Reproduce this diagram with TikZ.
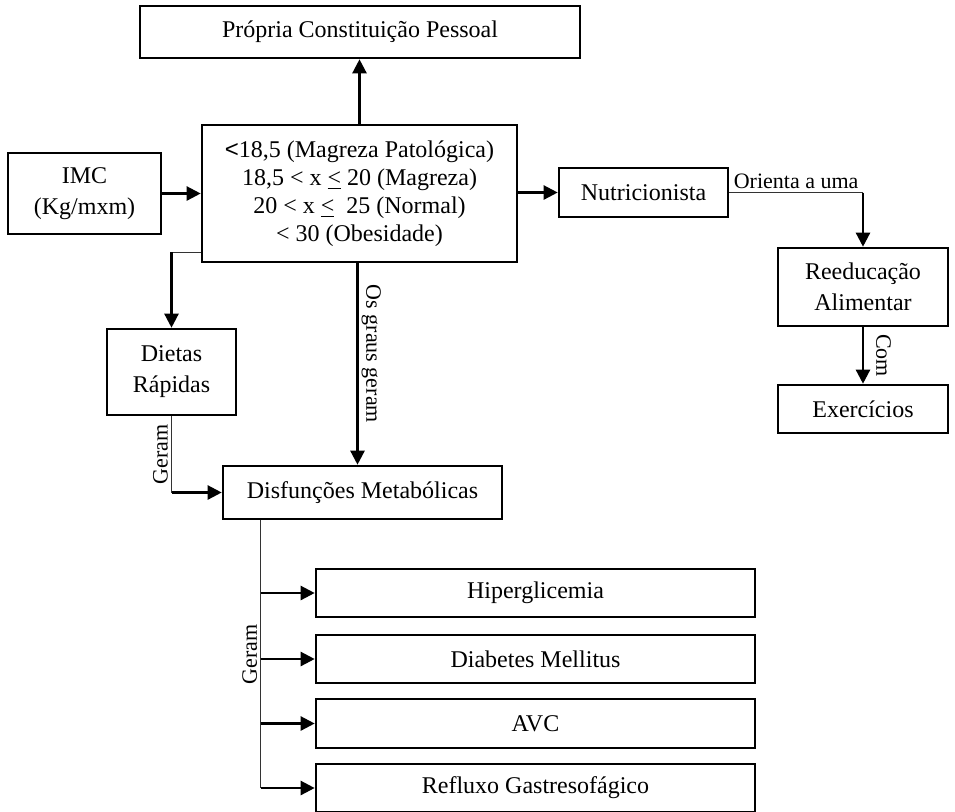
\documentclass[tikz,border=0pt]{standalone}
\usepackage{fontspec}
\setmainfont{Liberation Serif}
\newfontfamily\sansf{Liberation Sans}
\usetikzlibrary{arrows.meta}
\begin{document}
\begin{tikzpicture}[x=0.5pt,y=-0.5pt,
  caixa/.style={draw,line width=1.3pt,inner sep=0pt,align=center,font=\fontsize{12}{15.5}\selectfont},
  seta/.style={line width=1.2pt,-{Triangle[length=7pt,width=7pt]}},
  fino/.style={line width=0.6pt,black!80},
  rotulo/.style={font=\fontsize{11}{13}\selectfont,inner sep=1.5pt}]
\useasboundingbox (0,0) rectangle (955,811);
\node[caixa,minimum width=220pt,minimum height=26pt] (constit) at (360,32) {Própria Constituição Pessoal};
\node[caixa,minimum width=157.5pt,minimum height=68.5pt,font=\fontsize{12}{14}\selectfont] (graus) at (359.5,193.5)
  {{\sansf <}18,5 (Magreza Patológica)\\ 18,5 < x \underline{<} 20 (Magreza)\\ 20 < x \underline{<}\ \ 25 (Normal)\\ < 30 (Obesidade)};
\node[caixa,minimum width=76.5pt,minimum height=40.5pt] (imc) at (84.5,193.5) {IMC\\ (Kg/mxm)};
\node[caixa,minimum width=84.5pt,minimum height=24.5pt] (nutri) at (643.5,192.5) {Nutricionista};
\node[caixa,minimum width=85pt,minimum height=39pt] (reeduc) at (863,287) {Reeducação\\ Alimentar};
\node[caixa,minimum width=85pt,minimum height=24pt] (exerc) at (863,409) {Exercícios};
\node[caixa,minimum width=64.5pt,minimum height=43pt] (dietas) at (171.5,372) {Dietas\\ Rápidas};
\node[caixa,minimum width=139.5pt,minimum height=26.5pt] (disf) at (362.5,492.5) {Disfunções Metabólicas};
\node[caixa,minimum width=219.5pt,minimum height=24pt] (hiper) at (535.5,593) {Hiperglicemia};
\node[caixa,minimum width=219.5pt,minimum height=24pt] (diab) at (535.5,659) {Diabetes Mellitus};
\node[caixa,minimum width=219.5pt,minimum height=24.5pt] (avc) at (535.5,723.5) {AVC};
\node[caixa,minimum width=219.5pt,minimum height=24pt] (refl) at (535.5,788) {Refluxo Gastresofágico};

\draw[seta] (imc.east |- graus.west) -- (graus.west);
\draw[seta] (graus.north) -- (graus.north |- constit.south);
\draw[seta] (graus.east |- nutri.west) -- (nutri.west);

\coordinate (c1) at (reeduc.north |- nutri.east);
\draw[fino] (nutri.east) -- node[rotulo,above,black] {Orienta a uma} (c1);
\draw[seta] (c1) -- (reeduc.north);
\draw[seta] (reeduc.south) -- node[rotulo,midway,rotate=-90,anchor=south,inner sep=6pt] {Com} (exerc.north);

\coordinate (c2) at ([yshift=5.5pt]graus.south west);
\draw[fino] (c2) -- (dietas.north |- c2);
\draw[seta] (dietas.north |- c2) -- (dietas.north);

\coordinate (c3) at (dietas.south |- disf.west);
\draw[fino] (dietas.south) -- node[rotulo,midway,rotate=90,anchor=south,black] {Geram} (c3);
\draw[seta] (c3) -- (disf.west);

\draw[seta] ([xshift=-1pt]graus.south) -- node[rotulo,pos=0.45,rotate=-90,anchor=south] {Os graus geram} ([xshift=-1pt]graus.south |- disf.north);

\coordinate (tronco) at ([xshift=19.5pt]disf.south west);
\draw[fino] (tronco) -- node[rotulo,midway,rotate=90,anchor=south,black] {Geram} (tronco |- refl.west);
\foreach \n in {hiper,diab,avc,refl}
  \draw[seta] (tronco |- \n.west) -- (\n.west);
\end{tikzpicture}
\end{document}
